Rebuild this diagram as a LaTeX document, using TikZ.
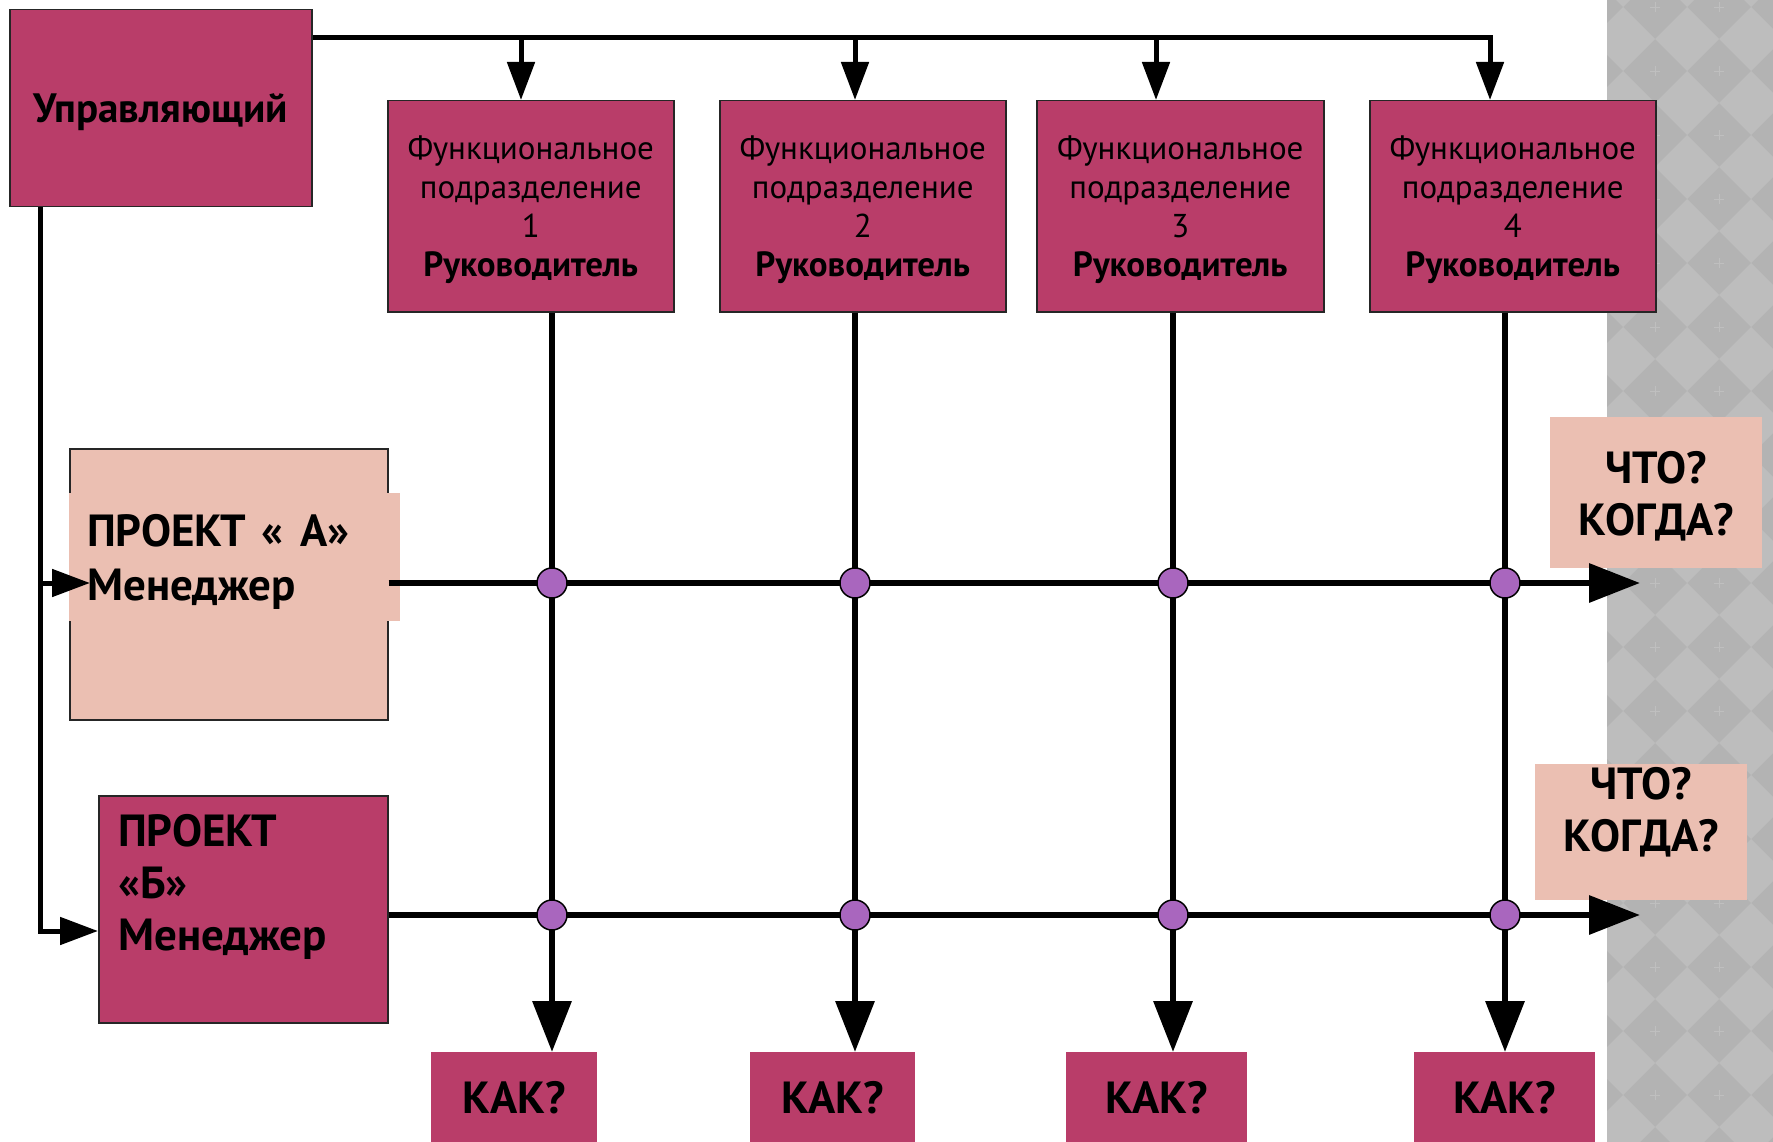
\documentclass[tikz,border=0pt]{standalone}
\usepackage{fontspec}
\setmainfont{PT Sans}
\usetikzlibrary{arrows.meta}
\definecolor{crim}{HTML}{B93D69}
\definecolor{peach}{HTML}{EBBFB2}
\definecolor{purp}{HTML}{A966BE}
\definecolor{bgdark}{HTML}{B3B3B3}
\definecolor{bglight}{HTML}{BDBDBD}
\definecolor{sparkle}{HTML}{BFBFBF}
\begin{document}
\begin{tikzpicture}[x=1pt,y=-1pt,
  crbox/.style={draw=black!85, line width=1.5pt, fill=crim, inner sep=0pt, anchor=north west},
  flatbox/.style={fill=#1, inner sep=0pt, anchor=north west},
  functext/.style={align=center, inner sep=0pt, font=\fontsize{33}{39}\selectfont},
  bigtext/.style={font=\fontsize{45}{52}\selectfont\bfseries},
  dot/.style={circle, draw=black, line width=1.5pt, fill=purp, minimum size=30pt, inner sep=0pt},
  thinline/.style={line width=5pt},
  mainline/.style={line width=6.5pt},
  smallarr/.style={-{Triangle[length=38pt,width=27pt]}},
  bigarr/.style={-{Triangle[length=51pt,width=38pt]}}]
\useasboundingbox (0,0) rectangle (1773,1142);
% patterned background strip
\begin{scope}
\clip (1607,0) rectangle (1773,1142);
\fill[bgdark] (1607,0) rectangle (1773,1142);
\foreach \i in {-1,...,3}{
  \foreach \j in {-1,...,18}{
    \fill[bglight] (1623+64*\i,39+64*\j) ++(0,-32) -- ++(32,32) -- ++(-32,32) -- ++(-32,-32) -- cycle;
    \draw[sparkle, line width=0.8pt] (1591+64*\i,7+64*\j) ++(-5,0) -- ++(10,0) ++(-5,-5) -- ++(0,10);
  }
}
\end{scope}
% boxes
\node[crbox, minimum width=302pt, minimum height=197pt] (upr) at (9,9) {};
\node[font=\fontsize{41}{48}\selectfont\bfseries, inner sep=0pt] (uprt) at ([yshift=-3.5pt]upr.center) {Управляющий};
\node[crbox, minimum width=286pt, minimum height=211pt] (f1) at (387,100) {};
\node[crbox, minimum width=286pt, minimum height=211pt] (f2) at (719,100) {};
\node[crbox, minimum width=287pt, minimum height=211pt] (f3) at (1036,100) {};
\node[crbox, minimum width=286pt, minimum height=211pt] (f4) at (1369,100) {};
\foreach \n in {1,2,3,4}{
  \node[functext] (f\n t) at ([yshift=-3.5pt]f\n.center) {Функциональное\\подразделение\\\n\\\textbf{\fontsize{35}{39}\selectfont Руководитель}};
}
% project A
\node[crbox, fill=peach, minimum width=318pt, minimum height=271pt] (pa) at (69,448) {};
\node[flatbox=peach, minimum width=331pt, minimum height=128pt] (pap) at (69,493) {};
\node[anchor=west, inner sep=0pt, align=left, font=\fontsize{45}{54}\selectfont\bfseries] (pat) at ([xshift=18pt, yshift=-4.5pt]pap.west) {ПРОЕКТ\hspace{16pt}«\hspace{17pt}А»\\Менеджер};
% project B
\node[crbox, minimum width=289pt, minimum height=227pt] (pb) at (98,795) {};
\node[anchor=north west, inner sep=0pt, align=left, bigtext] (pbt) at (118,814) {ПРОЕКТ\\«Б»\\Менеджер};
% what / when
\node[flatbox=peach, minimum width=212pt, minimum height=151pt] (w1) at (1550,417) {};
\node[inner sep=0pt, align=center, bigtext] (w1t) at ([yshift=-3.5pt]w1.center) {ЧТО?\\КОГДА?};
\node[flatbox=peach, minimum width=212pt, minimum height=136pt] (w2) at (1535,764) {};
\node[anchor=north, inner sep=0pt, align=center, bigtext] (w2t) at (1641,767) {ЧТО?\\КОГДА?};
% how
\node[flatbox=crim, minimum width=166pt, minimum height=90pt, bigtext] (k1) at (431,1052) {КАК?};
\node[flatbox=crim, minimum width=165pt, minimum height=90pt, bigtext] (k2) at (750,1052) {КАК?};
\node[flatbox=crim, minimum width=181pt, minimum height=90pt, bigtext] (k3) at (1066,1052) {КАК?};
\node[flatbox=crim, minimum width=181pt, minimum height=90pt, bigtext] (k4) at (1414,1052) {КАК?};
% coordinates
\coordinate (tl) at (1490,38);
\coordinate (t1) at (521,38);
\coordinate (t2) at (855,38);
\coordinate (t3) at (1156,38);
\coordinate (ll) at (40,931);
\coordinate (atip) at (90,583);
\coordinate (ea) at (1640,583);
\coordinate (eb) at (1640,915);
\coordinate (c1) at (552,0);
\coordinate (c2) at (855,0);
\coordinate (c3) at (1173,0);
\coordinate (c4) at (1505,0);
% top distribution
\draw[thinline, smallarr] (upr.east |- tl) -- (tl) -- (f4.north -| tl);
\draw[thinline, smallarr] (t1) -- (f1.north -| t1);
\draw[thinline, smallarr] (t2) -- (f2.north -| t2);
\draw[thinline, smallarr] (t3) -- (f3.north -| t3);
% left distribution
\draw[thinline, smallarr] (upr.south -| ll) -- (ll) -- (pb.west |- ll);
\draw[thinline, smallarr] (atip -| ll) -- (atip);
% grid
\draw[mainline, bigarr] (f1.south -| c1) -- (k1.north -| c1);
\draw[mainline, bigarr] (f2.south -| c2) -- (k2.north -| c2);
\draw[mainline, bigarr] (f3.south -| c3) -- (k3.north -| c3);
\draw[mainline, bigarr] (f4.south -| c4) -- (k4.north -| c4);
\draw[mainline, bigarr] (pa.east |- ea) -- (ea);
\draw[mainline, bigarr] (pb.east |- eb) -- (eb);
% junctions
\foreach \c in {1,2,3,4}{
  \node[dot] (a\c) at (c\c |- ea) {};
  \node[dot] (b\c) at (c\c |- eb) {};
}
\end{tikzpicture}
\end{document}
